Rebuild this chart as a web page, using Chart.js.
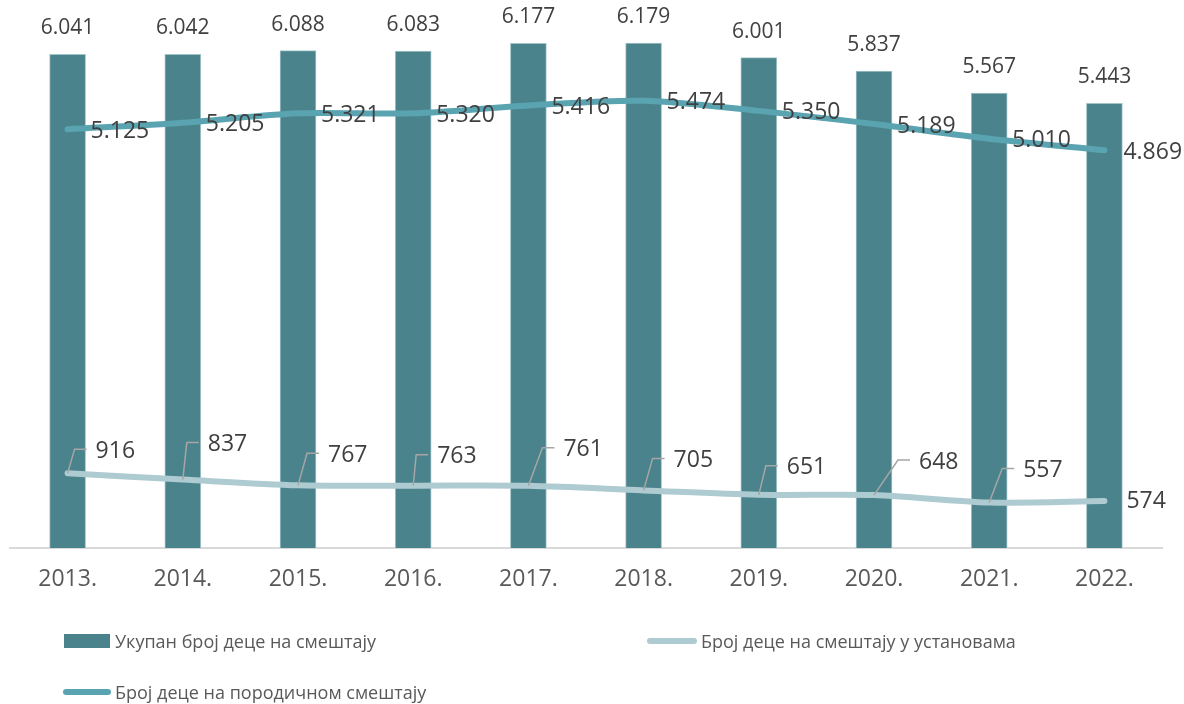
<!DOCTYPE html>
<html>
<head>
<meta charset="utf-8">
<script src="https://cdn.jsdelivr.net/npm/chart.js@4"></script>
<style>
  body { margin: 0; background: #fff; font-family: "Open Sans", sans-serif; }
  #wrap { position: relative; width: 1184px; height: 704px; }
  .leg { position: absolute; font-size: 18px; color: #595959; white-space: nowrap; line-height: 24px; }
  .sw { position: absolute; }
</style>
</head>
<body>
<div id="wrap">
  <canvas id="myChart" width="1184" height="704"></canvas>
  <div class="sw" style="left:64px;top:634px;width:46px;height:14px;background:#4a838c"></div>
  <div class="leg" style="left:115px;top:629px">Укупан број деце на смештају</div>
  <div class="sw" style="left:647px;top:638px;width:50px;height:6px;border-radius:3px;background:#aecbd1"></div>
  <div class="leg" style="left:701px;top:629px">Број деце на смештају у установама</div>
  <div class="sw" style="left:63px;top:689px;width:48px;height:6px;border-radius:3px;background:#5aa3b0"></div>
  <div class="leg" style="left:115px;top:680px">Број деце на породичном смештају</div>
</div>
<script>
// Years on the x axis
let years = ["2013.", "2014.", "2015.", "2016.", "2017.", "2018.", "2019.", "2020.", "2021.", "2022."]

// Total children in care
let total = [6041, 6042, 6088, 6083, 6177, 6179, 6001, 5837, 5567, 5443]

// Children in family care
let family = [5125, 5205, 5321, 5320, 5416, 5474, 5350, 5189, 5010, 4869]

// Children in institutions
let institutions = [916, 837, 767, 763, 761, 705, 651, 648, 557, 574]

// where the institution labels sit relative to their point [dx, dy]
let instLabelShift = [[28, -22], [25, -35], [30, -30], [24, -29], [35, -36], [30, -30], [28, -27], [45, -33], [34, -32], [22, 0]]

function fmt(v) {
    return String(v).replace(/\B(?=(\d{3})+(?!\d))/g, ".")
}

// draws the value labels (and leader lines for the institution series)
const valueLabels = {
    id: "valueLabels",
    afterDatasetsDraw(chart) {
        const ctx = chart.ctx
        ctx.save()
        ctx.fillStyle = "#404040"
        ctx.textBaseline = "middle"

        let bars = chart.getDatasetMeta(2).data
        ctx.font = "21px 'Open Sans'"
        ctx.textAlign = "center"
        bars.forEach((b, i) => ctx.fillText(fmt(total[i]), b.x, b.y - 26))

        ctx.font = "23px 'Open Sans'"
        ctx.textAlign = "left"
        let fam = chart.getDatasetMeta(0).data
        fam.forEach((p, i) => ctx.fillText(fmt(family[i]), p.x + (i == fam.length - 1 ? 19 : 23), p.y + 2))

        let inst = chart.getDatasetMeta(1).data
        inst.forEach((p, i) => {
            let dx = instLabelShift[i][0], dy = instLabelShift[i][1]
            let lx = p.x + dx, ly = p.y + dy
            if (dy != 0) {
                ctx.strokeStyle = "#a6a6a6"
                ctx.lineWidth = 1.5
                ctx.beginPath()
                ctx.moveTo(p.x, p.y)
                ctx.lineTo(lx - 21, ly - 2)
                ctx.lineTo(lx - 9, ly - 2)
                ctx.stroke()
            }
            ctx.fillText(fmt(institutions[i]), lx, ly)
        })
        ctx.restore()
    }
}

function drawChart() {
    var ctx = document.getElementById('myChart').getContext('2d');
    var chart = new Chart(ctx, {
        type: 'bar',
        data: {
            labels: years,
            datasets: [{
                type: 'line',
                label: "Број деце на породичном смештају",
                data: family,
                borderColor: '#5aa3b0',
                borderWidth: 6,
                borderCapStyle: 'round',
                pointRadius: 0,
                tension: 0.3,
                order: 1
            }, {
                type: 'line',
                label: "Број деце на смештају у установама",
                data: institutions,
                borderColor: '#aecbd1',
                borderWidth: 6,
                borderCapStyle: 'round',
                pointRadius: 0,
                tension: 0.3,
                order: 2
            }, {
                label: "Укупан број деце на смештају",
                data: total,
                backgroundColor: '#4a838c',
                borderColor: '#a3c4c9',
                borderWidth: 1,
                barThickness: 36,
                order: 3
            }]
        },
        options: {
            responsive: false,
            animation: false,
            layout: { padding: { left: 10, right: 22, top: 0, bottom: 104 } },
            plugins: { legend: { display: false }, tooltip: { enabled: false } },
            scales: {
                x: {
                    grid: { display: false, drawTicks: false },
                    border: { display: true, color: '#d9d9d9', width: 2 },
                    ticks: { color: '#595959', font: { family: 'Open Sans', size: 23 }, padding: 18 },
                    afterFit(scale) { scale.height = 52 }
                },
                y: { display: false, min: 0, max: 6707 }
            }
        },
        plugins: [valueLabels]
    });
}

drawChart()
</script>
</body>
</html>
